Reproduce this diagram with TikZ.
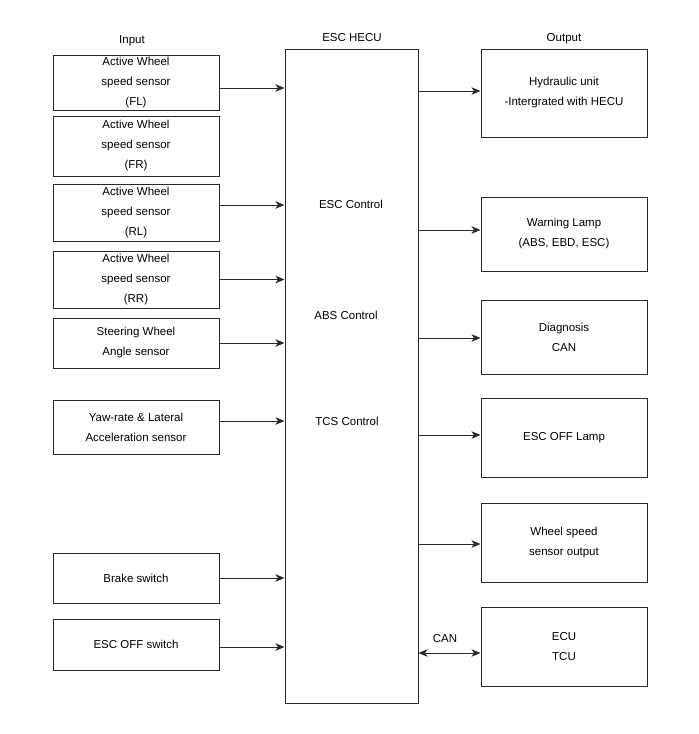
\documentclass[tikz,border=0pt]{standalone}
\usepackage{fontspec}
\setmainfont{Liberation Sans}
\usetikzlibrary{arrows.meta}
\definecolor{ln}{RGB}{40,40,40}
\begin{document}
\begin{tikzpicture}[x=1pt,y=-1pt,
  box/.style={draw=ln,line width=1pt,inner sep=0pt,align=center,font=\fontsize{11.5}{20}\selectfont},
  inbox/.style={box,minimum width=166pt},
  outbox/.style={box,minimum width=166pt},
  lbl/.style={inner sep=0pt,font=\fontsize{11.5}{20}\selectfont},
  arr/.style={draw=ln,line width=1pt,-{Stealth[length=9pt,width=7.5pt,inset=2.5pt]}},
  barr/.style={draw=ln,line width=1pt,{Stealth[length=9pt,width=7.5pt,inset=2.5pt]}-{Stealth[length=9pt,width=7.5pt,inset=2.5pt]}}]
\useasboundingbox (0,0) rectangle (699,734);
% titles
\node[lbl] (tin) at (132,41) {Input};
\node[lbl] (thecu) at (352,38) {ESC HECU};
\node[lbl] (tout) at (564,39) {Output};
% inputs
\node[inbox,minimum height=55pt] (fl) at (136,82.5) {Active Wheel\\speed sensor\\(FL)};
\node[inbox,minimum height=60pt] (fr) at (136,146) {Active Wheel\\speed sensor\\(FR)};
\node[inbox,minimum height=57pt] (rl) at (136,212.5) {Active Wheel\\speed sensor\\(RL)};
\node[inbox,minimum height=57pt] (rr) at (136,279.5) {Active Wheel\\speed sensor\\(RR)};
\node[inbox,minimum height=50pt] (st) at (136,343) {Steering Wheel\\Angle sensor};
\node[inbox,minimum height=54pt] (yaw) at (136,427) {Yaw-rate \& Lateral\\Acceleration sensor};
\node[inbox,minimum height=50pt] (bs) at (136,578) {Brake switch};
\node[inbox,minimum height=51pt] (es) at (136,644.5) {ESC OFF switch};
% HECU
\node[box,minimum width=133pt,minimum height=654pt] (hecu) at (351.5,376) {};
\node[lbl] (escc) at (351,204) {ESC Control};
\node[lbl] (absc) at (346,315) {ABS Control};
\node[lbl] (tcsc) at (347,421) {TCS Control};
% outputs
\node[outbox,minimum height=88pt] (hyd) at (564,93) {Hydraulic unit\\-Intergrated with HECU};
\node[outbox,minimum height=74pt] (warn) at (564,234) {Warning Lamp\\(ABS, EBD, ESC)};
\node[outbox,minimum height=74pt] (diag) at (564,337) {Diagnosis\\CAN};
\node[outbox,minimum height=79pt] (lamp) at (564,437.5) {ESC OFF Lamp};
\node[outbox,minimum height=79pt] (wss) at (564,542.5) {Wheel speed\\sensor output};
\node[outbox,minimum height=79pt] (ecu) at (564,646.5) {ECU\\TCU};
\node[lbl] (can) at (445,639) {CAN};
% input arrows
\draw[arr] ([yshift=-5.5pt]fl.east) -- ([yshift=-5.5pt]fl.east -| hecu.west);
\draw[arr] ([yshift=7.5pt]rl.east) -- ([yshift=7.5pt]rl.east -| hecu.west);
\draw[arr] (rr.east) -- (rr.east -| hecu.west);
\draw[arr] (st.east) -- (st.east -| hecu.west);
\draw[arr] ([yshift=6pt]yaw.east) -- ([yshift=6pt]yaw.east -| hecu.west);
\draw[arr] (bs.east) -- (bs.east -| hecu.west);
\draw[arr] ([yshift=-2.5pt]es.east) -- ([yshift=-2.5pt]es.east -| hecu.west);
% output arrows
\draw[arr] ([yshift=2pt]hyd.west -| hecu.east) -- ([yshift=2pt]hyd.west);
\draw[arr] ([yshift=4pt]warn.west -| hecu.east) -- ([yshift=4pt]warn.west);
\draw[arr] ([yshift=-1pt]diag.west -| hecu.east) -- ([yshift=-1pt]diag.west);
\draw[arr] ([yshift=2.5pt]lamp.west -| hecu.east) -- ([yshift=2.5pt]lamp.west);
\draw[arr] ([yshift=-1.5pt]wss.west -| hecu.east) -- ([yshift=-1.5pt]wss.west);
\draw[barr] ([yshift=-6.5pt]ecu.west -| hecu.east) -- ([yshift=-6.5pt]ecu.west);
\end{tikzpicture}
\end{document}
